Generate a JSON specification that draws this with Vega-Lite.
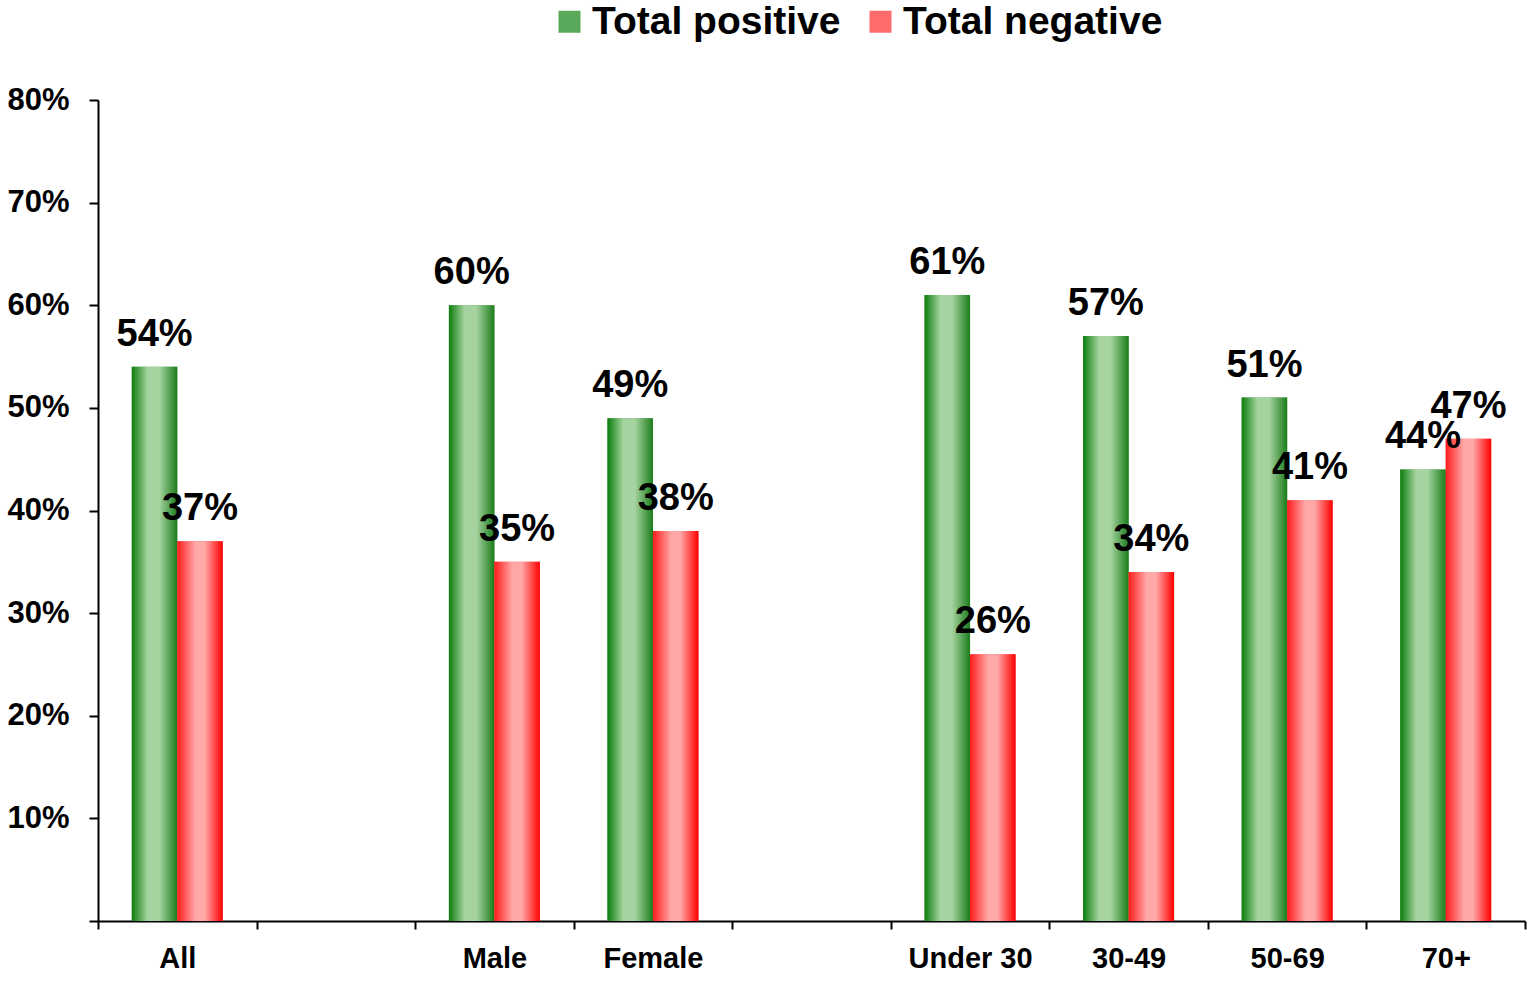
{
  "$schema": "https://vega.github.io/schema/vega-lite/v6.json",
  "width": 1427,
  "height": 821,
  "autosize": {"type": "none"},
  "padding": {"left": 98, "top": 100, "right": 5, "bottom": 60},
  "background": "white",
  "config": {"view": {"stroke": null}, "font": "Liberation Sans"},
  "data": {
    "values": [
      {"group": "All", "series": "Total positive", "value": 0.54},
      {"group": "All", "series": "Total negative", "value": 0.37},
      {"group": "Male", "series": "Total positive", "value": 0.60},
      {"group": "Male", "series": "Total negative", "value": 0.35},
      {"group": "Female", "series": "Total positive", "value": 0.49},
      {"group": "Female", "series": "Total negative", "value": 0.38},
      {"group": "Under 30", "series": "Total positive", "value": 0.61},
      {"group": "Under 30", "series": "Total negative", "value": 0.26},
      {"group": "30-49", "series": "Total positive", "value": 0.57},
      {"group": "30-49", "series": "Total negative", "value": 0.34},
      {"group": "50-69", "series": "Total positive", "value": 0.51},
      {"group": "50-69", "series": "Total negative", "value": 0.41},
      {"group": "70+", "series": "Total positive", "value": 0.44},
      {"group": "70+", "series": "Total negative", "value": 0.47}
    ]
  },
  "encoding": {
    "x": {
      "field": "group",
      "type": "nominal",
      "scale": {
        "domain": ["All", " ", "Male", "Female", "  ", "Under 30", "30-49", "50-69", "70+"],
        "paddingInner": 0,
        "paddingOuter": 0
      },
      "axis": {
        "title": null,
        "labelAngle": 0,
        "labelFontSize": 29,
        "labelFontWeight": "bold",
        "labelColor": "black",
        "labelPadding": 15,
        "tickBand": "extent",
        "tickSize": 8,
        "tickWidth": 2,
        "tickColor": "black",
        "domainColor": "black",
        "domainWidth": 2
      }
    },
    "xOffset": {
      "field": "series",
      "type": "nominal",
      "scale": {
        "domain": ["Total positive", "Total negative"],
        "paddingInner": 0,
        "paddingOuter": 0.743
      }
    },
    "y": {
      "field": "value",
      "type": "quantitative",
      "scale": {"domain": [0, 0.8]},
      "axis": {
        "title": null,
        "values": [0, 0.1, 0.2, 0.3, 0.4, 0.5, 0.6, 0.7, 0.8],
        "format": ".0%",
        "labelExpr": "datum.value == 0 ? '' : datum.label",
        "labelFontSize": 31,
        "labelFontWeight": "bold",
        "labelColor": "black",
        "labelPadding": 20,
        "tickSize": 9,
        "tickWidth": 2,
        "tickColor": "black",
        "domainColor": "black",
        "domainWidth": 2,
        "grid": false
      }
    }
  },
  "layer": [
    {
      "mark": {"type": "bar"},
      "encoding": {
        "color": {
          "field": "series",
          "type": "nominal",
          "scale": {
            "domain": ["Total positive", "Total negative"],
            "range": ["#5aa85a", "#ff6a6a"]
          },
          "legend": {
            "title": null,
            "orient": "none",
            "direction": "horizontal",
            "legendX": 452,
            "legendY": -98,
            "labelFontSize": 39,
            "labelFontWeight": "bold",
            "labelColor": "black",
            "labelLimit": 0,
            "symbolType": "square",
            "symbolSize": 484,
            "symbolStrokeWidth": 0,
            "symbolOpacity": 1,
            "labelOffset": 3,
            "columnPadding": 20
          }
        }
      }
    },
    {
      "transform": [{"filter": "datum.series == 'Total positive'"}],
      "mark": {
        "type": "bar",
        "color": {"gradient": "linear", "x1": 0, "y1": 0, "x2": 1, "y2": 0, "stops": [
          {"offset": 0, "color": "#0b7d0b"},
          {"offset": 0.35, "color": "#a6d4a0"},
          {"offset": 0.6, "color": "#a6d4a0"},
          {"offset": 1, "color": "#1b7c1b"}
        ]}
      },
      "encoding": {}
    },
    {
      "transform": [{"filter": "datum.series == 'Total negative'"}],
      "mark": {
        "type": "bar",
        "color": {"gradient": "linear", "x1": 0, "y1": 0, "x2": 1, "y2": 0, "stops": [
          {"offset": 0, "color": "#ff1c1c"},
          {"offset": 0.4, "color": "#ffa8a8"},
          {"offset": 0.6, "color": "#ffa8a8"},
          {"offset": 1, "color": "#ff0000"}
        ]}
      },
      "encoding": {}
    },
    {
      "mark": {"type": "text", "baseline": "alphabetic", "dy": -21, "fontSize": 38, "fontWeight": "bold", "color": "black"},
      "encoding": {
        "text": {"field": "value", "type": "quantitative", "format": ".0%"}
      }
    }
  ]
}
